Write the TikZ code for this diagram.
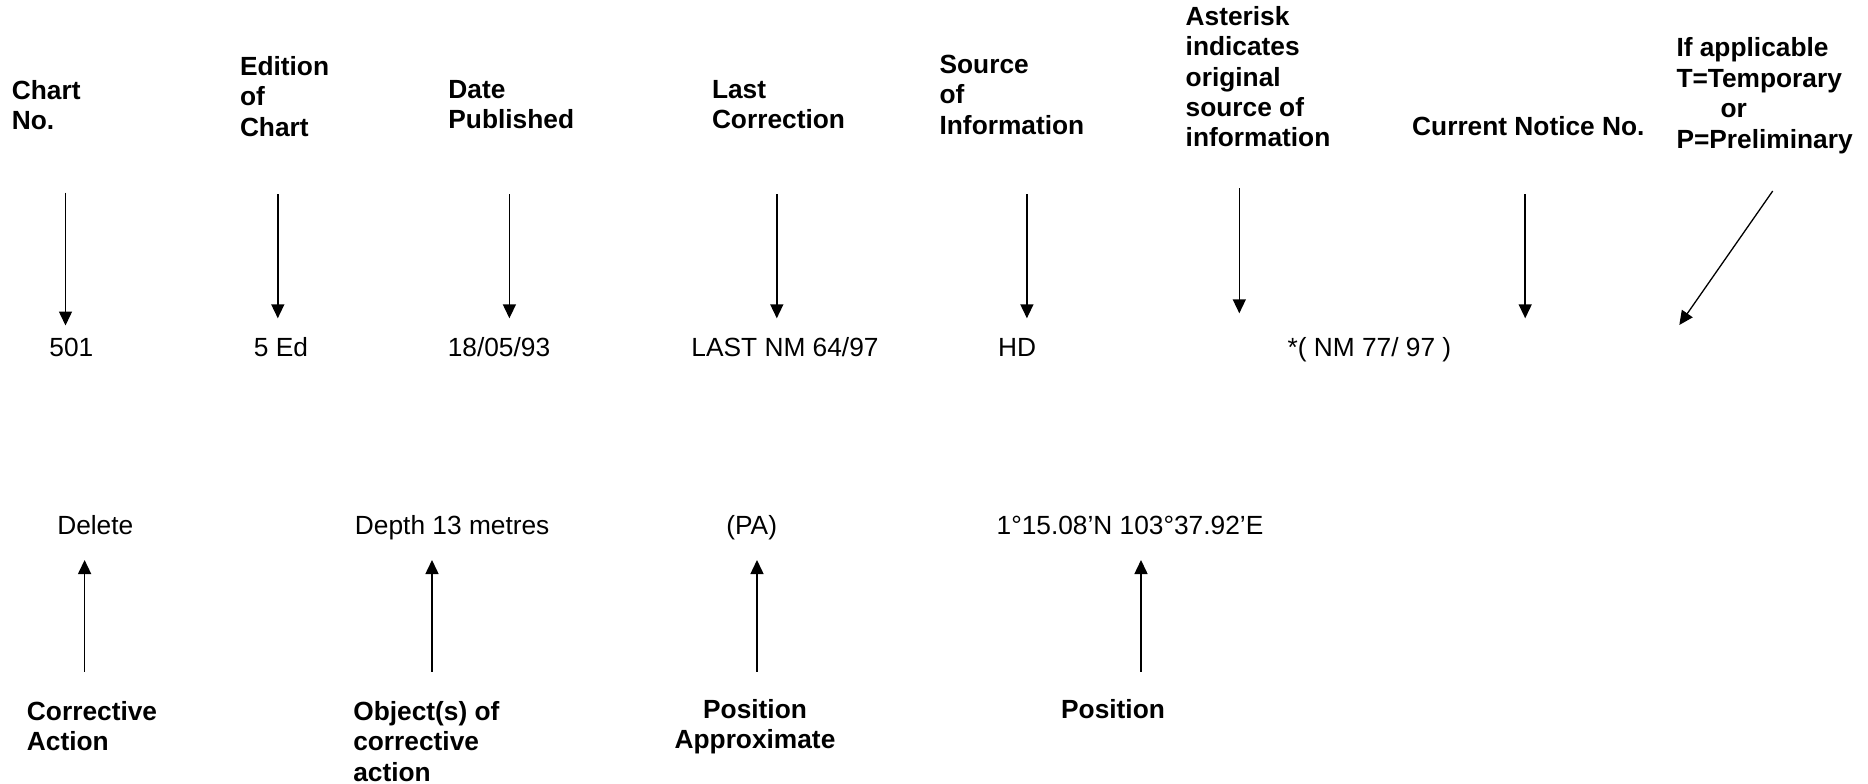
\documentclass[tikz,border=0pt]{standalone}
\usepackage{fontspec}
\setmainfont{Liberation Sans}
\usetikzlibrary{arrows.meta}
\tikzset{
  base/.style={inner sep=0pt, outer sep=0pt, font=\fontsize{26.3}{30.4}\selectfont},
  head/.style={base, font=\fontsize{26.3}{30.4}\selectfont\bfseries, align=left, anchor=north west},
  headc/.style={base, font=\fontsize{26.3}{30.4}\selectfont\bfseries, align=center},
  val/.style={base, anchor=base},
  arr/.style={line width=1.5pt, -{Triangle[length=14pt,width=13pt]}},
  diag/.style={line width=1.3pt, -{Triangle[length=14pt,width=13pt]}}
}
\begin{document}
\begin{tikzpicture}[x=1pt,y=-1pt]
\useasboundingbox (0,0) rectangle (1868,784);
% header labels
\node[head] (chartno) at (11.9,80.2) {Chart\\No.};
\node[head] (edition) at (240,56.2) {Edition\\of\\Chart};
\node[head] (date) at (448.4,80.2) {Date\\Published};
\node[head] (lastcorr) at (712,80.2) {Last\\Correction};
\node[head] (source) at (939.6,55.2) {Source\\of\\Information};
\node[head] (asterisk) at (1185.7,6.2) {Asterisk\\indicates\\original\\source of\\information};
\node[head, anchor=base west] (current) at (1412.2,135) {Current Notice No.};
\node[head] (ifapp) at (1676.5,37.9) {If applicable\\T=Temporary\\\hspace*{44pt}or\\P=Preliminary};
% values row 1
\node[val] (v501) at (71.4,356) {501};
\node[val] (ved) at (280.9,356) {5 Ed};
\node[val] (vdate) at (499,356) {18/05/93};
\node[val] (vlast) at (785,356) {LAST NM 64/97};
\node[val] (vhd) at (1017,356) {HD};
\node[val] (vnm) at (1369.4,356) {*( NM 77/ 97 )};
% values row 2
\node[val] (vdel) at (95.3,534) {Delete};
\node[val] (vdepth) at (452.2,534) {Depth 13 metres};
\node[val] (vpa) at (751.7,534) {(PA)};
\node[val] (vpos) at (1130,534) {1°15.08’N 103°37.92’E};
% bottom labels
\node[head] (corr) at (27,701.2) {Corrective\\Action};
\node[head] (obj) at (353.3,701.2) {Object(s) of\\corrective\\action};
\node[headc, anchor=north] (posapp) at (755,699.5) {Position\\Approximate};
\node[headc, anchor=base] (position) at (1113,718.3) {Position};
% arrow end points
\coordinate (t1) at (65.5,192.7);   \coordinate (h1) at (65.5,325.5);
\coordinate (t2) at (277.8,194.3);  \coordinate (h2) at (277.8,318.3);
\coordinate (t3) at (509.4,194.3);  \coordinate (h3) at (509.4,318.3);
\coordinate (t4) at (776.8,194.3);  \coordinate (h4) at (776.8,318.3);
\coordinate (t5) at (1026.9,194.3); \coordinate (h5) at (1026.9,318.3);
\coordinate (t6) at (1239.3,188.3); \coordinate (h6) at (1239.3,313.3);
\coordinate (t7) at (1525.2,194.3); \coordinate (h7) at (1525.2,318.3);
\coordinate (t8) at (1772.7,191);   \coordinate (h8) at (1679.3,325);
\coordinate (u1) at (84.6,671.7);   \coordinate (g1) at (84.6,560);
\coordinate (u2) at (432,671.7);    \coordinate (g2) at (432,560);
\coordinate (u3) at (757,671.7);    \coordinate (g3) at (757,560);
\coordinate (u4) at (1141,671.7);   \coordinate (g4) at (1141,560);
% arrows
\draw[arr] (t1) -- (h1);
\draw[arr] (t2) -- (h2);
\draw[arr] (t3) -- (h3);
\draw[arr] (t4) -- (h4);
\draw[arr] (t5) -- (h5);
\draw[arr] (t6) -- (h6);
\draw[arr] (t7) -- (h7);
\draw[diag] (t8) -- (h8);
\draw[arr] (u1) -- (g1);
\draw[arr] (u2) -- (g2);
\draw[arr] (u3) -- (g3);
\draw[arr] (u4) -- (g4);
\end{tikzpicture}
\end{document}
